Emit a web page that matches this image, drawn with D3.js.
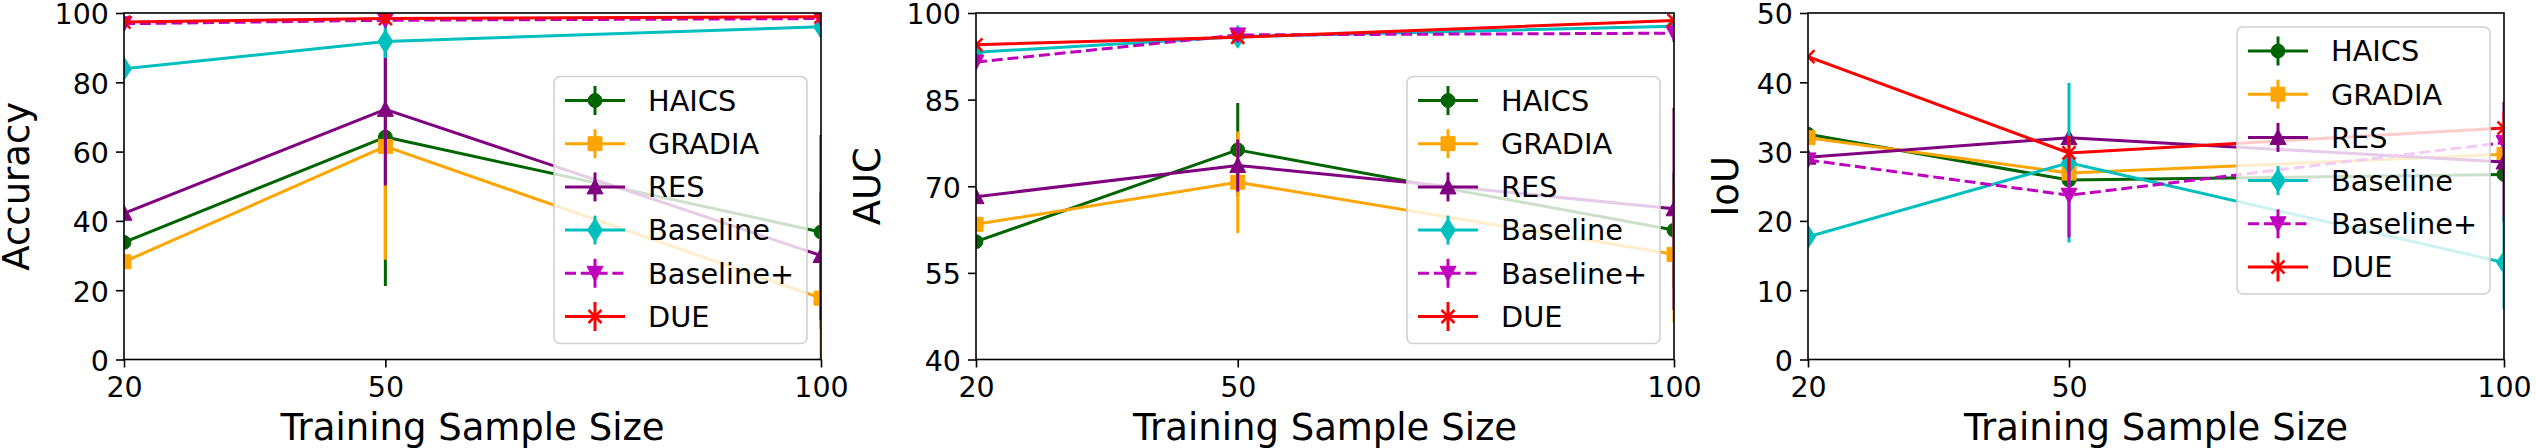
<!DOCTYPE html>
<html><head><meta charset="utf-8">
<script src="https://cdn.jsdelivr.net/npm/d3@7"></script>
<style>html,body{margin:0;padding:0;background:#fff;} svg{display:block;font-family:"DejaVu Sans",sans-serif;}</style>
</head><body><svg id="c" width="2536" height="448"></svg>
<script>
// ---------------- data ----------------
const sampleSizes = [20, 50, 100];
const methods = ["HAICS", "GRADIA", "RES", "Baseline", "Baseline+", "DUE"];

const accuracyValues = [
  [33.8, 64.2, 36.8],
  [28.2, 61.5, 17.7],
  [42.2, 72.2, 30.0],
  [83.9, 91.8, 96.0],
  [96.9, 97.9, 98.4],
  [97.4, 98.4, 98.9]
];
const accuracyErrors = [
  [0, 43, 28],
  [0, 32.7, 19],
  [0, 22, 18.5],
  [0, 4.8, 0],
  [0, 0, 0],
  [0, 1.5, 0]
];

const aucValues = [
  [60.4, 76.3, 62.4],
  [63.4, 70.7, 58.2],
  [68.2, 73.6, 66.1],
  [93.2, 95.9, 97.7],
  [91.5, 96.2, 96.5],
  [94.5, 95.8, 98.7]
];
const aucErrors = [
  [0, 8.1, 10],
  [0, 8.8, 11.8],
  [0, 4.5, 17.5],
  [0, 1.5, 0],
  [0, 0, 1.5],
  [0, 0, 0]
];

const iouValues = [
  [32.5, 25.9, 26.7],
  [32.0, 26.9, 29.6],
  [29.2, 32.0, 28.5],
  [17.7, 28.4, 14.0],
  [28.8, 23.7, 31.3],
  [43.7, 29.8, 33.4]
];
const iouErrors = [
  [0, 0, 0],
  [0, 0, 0],
  [0, 0, 8.7],
  [0, 11.5, 6.7],
  [0, 6.1, 0],
  [0, 2.5, 2.3]
];

const accuracyTicks = [0, 20, 40, 60, 80, 100];
const aucTicks = [40, 55, 70, 85, 100];
const iouTicks = [0, 10, 20, 30, 40, 50];
const xLabel = "Training Sample Size";

// ---------------- styles ----------------
const colors = ["#006400", "#FFA500", "#800080", "#00BFBF", "#BF00BF", "#FF0000"];
const markerTypes = ["circle", "square", "triUp", "thinDiamond", "triDown", "x"];
const dashes = [null, null, null, null, "11,4.8", null];

const plotTop = 13, plotBottom = 359.5;
const panels = [
  {left: 124, right: 821, label: "Accuracy", labelX: 29, domain: [0, 100], ticks: accuracyTicks,
   values: accuracyValues, errors: accuracyErrors, legend: "lower"},
  {left: 976, right: 1674, label: "AUC", labelX: 880, domain: [40, 100], ticks: aucTicks,
   values: aucValues, errors: aucErrors, legend: "lower"},
  {left: 1808, right: 2504, label: "IoU", labelX: 1738, domain: [0, 50], ticks: iouTicks,
   values: iouValues, errors: iouErrors, legend: "upper"}
];

function markerPath(type) {
  switch (type) {
    case "circle": return d3.symbol(d3.symbolCircle, 150)();
    case "square": return "M-7,-7H7V7H-7Z";
    case "triUp": return "M0,-8L8,7H-8Z";
    case "triDown": return "M0,8L8,-7H-8Z";
    case "thinDiamond": return "M0,-11.5L7.5,0L0,11.5L-7.5,0Z";
    case "x": return "M-6.5,-6.5L6.5,6.5M-6.5,6.5L6.5,-6.5";
  }
}
function drawMarker(sel, i, cx, cy) {
  const t = markerTypes[i];
  const p = sel.append("path").attr("d", markerPath(t)).attr("transform", `translate(${cx},${cy})`);
  if (t === "x") p.attr("fill", "none").attr("stroke", colors[i]).attr("stroke-width", 2.5);
  else p.attr("fill", colors[i]).attr("stroke", colors[i]).attr("stroke-width", 1);
}

const svg = d3.select("#c");
svg.append("rect").attr("width", 2536).attr("height", 448).attr("fill", "#fff");
const defs = svg.append("defs");

panels.forEach((p, pi) => {
  const x = d3.scaleLinear().domain([20, 100]).range([p.left, p.right]);
  const y = d3.scaleLinear().domain(p.domain).range([plotBottom, plotTop]);
  const clipId = "clip" + pi;
  defs.append("clipPath").attr("id", clipId).append("rect")
    .attr("x", p.left).attr("y", plotTop).attr("width", p.right - p.left).attr("height", plotBottom - plotTop);

  const plot = svg.append("g").attr("clip-path", `url(#${clipId})`);
  const line = d3.line().x(d => x(d[0])).y(d => y(d[1]));
  methods.forEach((m, i) => {
    const vals = p.values[i], errs = p.errors[i];
    const sg = plot.append("g");
    sampleSizes.forEach((s, j) => {
      if (errs[j] > 0) {
        sg.append("line").attr("x1", x(s)).attr("x2", x(s))
          .attr("y1", y(vals[j] - errs[j])).attr("y2", y(vals[j] + errs[j]))
          .attr("stroke", colors[i]).attr("stroke-width", 3);
      }
    });
    const path = sg.append("path").datum(sampleSizes.map((s, j) => [s, vals[j]]))
      .attr("d", line).attr("fill", "none").attr("stroke", colors[i]).attr("stroke-width", 3)
      .attr("stroke-linejoin", "round");
    if (dashes[i]) path.attr("stroke-dasharray", dashes[i]);
    sampleSizes.forEach((s, j) => drawMarker(sg, i, x(s), y(vals[j])));
  });

  // axes
  const ax = svg.append("g").attr("transform", `translate(0,${plotBottom})`)
    .call(d3.axisBottom(x).tickValues(sampleSizes).tickSize(8).tickPadding(9).tickFormat(d3.format("d")));
  const ay = svg.append("g").attr("transform", `translate(${p.left},0)`)
    .call(d3.axisLeft(y).tickValues(p.ticks).tickSize(8).tickPadding(7).tickFormat(d3.format("d")));
  [ax, ay].forEach(a => {
    a.select(".domain").remove();
    a.selectAll(".tick line").attr("stroke", "#000").attr("stroke-width", 1.6);
    a.selectAll(".tick text").attr("fill", "#000").style("font-size", "28.5px")
      .style("font-family", "'DejaVu Sans', sans-serif");
  });
  ay.selectAll(".tick text").attr("dy", "0.38em");
  svg.append("rect").attr("x", p.left).attr("y", plotTop).attr("width", p.right - p.left)
    .attr("height", plotBottom - plotTop).attr("fill", "none").attr("stroke", "#000").attr("stroke-width", 1.6);

  // axis labels
  svg.append("text").attr("x", (p.left + p.right) / 2).attr("y", 440).attr("text-anchor", "middle")
    .style("font-size", "37px").text(xLabel);
  svg.append("text").attr("transform", `translate(${p.labelX},${(plotTop + plotBottom) / 2}) rotate(-90)`)
    .attr("text-anchor", "middle").style("font-size", "37px").text(p.label);

  // legend
  const lw = 253, lh = 267;
  const lx = p.right - 14 - lw;
  const ly = p.legend === "lower" ? plotBottom - 16 - lh : plotTop + 14;
  const lg = svg.append("g");
  lg.append("rect").attr("x", lx).attr("y", ly).attr("width", lw).attr("height", lh)
    .attr("rx", 6).attr("fill", "#fff").attr("fill-opacity", 0.8)
    .attr("stroke", "#d0d0d0").attr("stroke-width", 1.6);
  methods.forEach((m, i) => {
    const ry = ly + 24 + i * 43.2;
    const hx0 = lx + 11, hx1 = lx + 71, hc = (hx0 + hx1) / 2;
    lg.append("line").attr("x1", hc).attr("x2", hc).attr("y1", ry - 14.5).attr("y2", ry + 14.5)
      .attr("stroke", colors[i]).attr("stroke-width", 3);
    const hl = lg.append("line").attr("x1", hx0).attr("x2", hx1).attr("y1", ry).attr("y2", ry)
      .attr("stroke", colors[i]).attr("stroke-width", 3);
    if (dashes[i]) hl.attr("stroke-dasharray", dashes[i]);
    drawMarker(lg, i, hc, ry);
    lg.append("text").attr("x", lx + 94).attr("y", ry).attr("dy", "0.36em")
      .style("font-size", "28.8px").attr("fill", "#000").text(m);
  });
});
</script>
</body></html>
